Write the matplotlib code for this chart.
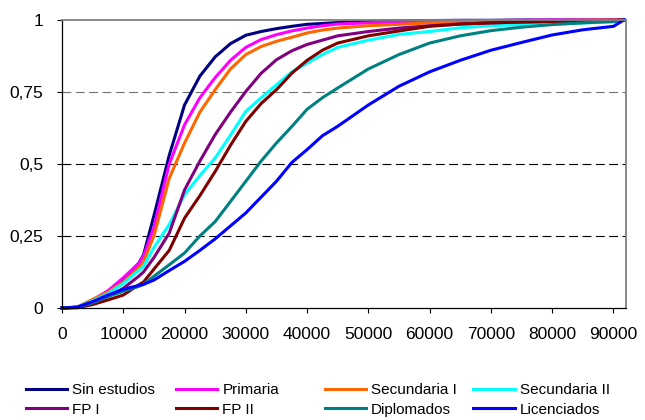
import matplotlib
matplotlib.use("Agg")
import matplotlib.pyplot as plt

plt.rcParams['font.family'] = ['Liberation Sans', 'DejaVu Sans']

# ---------------- data ----------------
income = [0, 2500, 5000, 7500, 10000, 12500, 13300, 15000, 17500, 20000, 22500,
          25000, 27500, 30000, 32500, 35000, 37500, 40000, 42500, 45000, 50000,
          55000, 60000, 65000, 70000, 75000, 80000, 85000, 90000, 91700]

sin_estudios = [0, 0.003, 0.02, 0.05, 0.095, 0.155, 0.184, 0.32, 0.53, 0.705, 0.805,
                0.872, 0.918, 0.947, 0.96, 0.97, 0.978, 0.985, 0.988, 0.991, 0.995,
                0.997, 0.998, 0.999, 0.999, 1.0, 1.0, 1.0, 1.0, 1.0]
primaria = [0, 0.003, 0.028, 0.06, 0.105, 0.155, 0.18, 0.28, 0.50, 0.636, 0.73,
            0.80, 0.86, 0.905, 0.932, 0.949, 0.962, 0.972, 0.98, 0.986, 0.99,
            0.994, 0.996, 0.997, 0.998, 0.999, 1.0, 1.0, 1.0, 1.0]
secundaria_1 = [0, 0.003, 0.03, 0.055, 0.09, 0.14, 0.16, 0.25, 0.45, 0.573, 0.68,
                0.758, 0.83, 0.88, 0.908, 0.926, 0.94, 0.955, 0.965, 0.972, 0.98,
                0.985, 0.99, 0.993, 0.995, 0.997, 0.998, 0.999, 1.0, 1.0]
secundaria_2 = [0, 0.003, 0.025, 0.05, 0.085, 0.13, 0.145, 0.21, 0.29, 0.393, 0.46,
                0.521, 0.60, 0.683, 0.73, 0.775, 0.82, 0.85, 0.88, 0.905, 0.93,
                0.95, 0.96, 0.973, 0.98, 0.984, 0.987, 0.99, 0.993, 1.0]
fp_1 = [0, 0.002, 0.018, 0.04, 0.068, 0.11, 0.125, 0.175, 0.26, 0.41, 0.51,
        0.602, 0.68, 0.752, 0.815, 0.862, 0.893, 0.915, 0.93, 0.945, 0.96,
        0.972, 0.98, 0.986, 0.99, 0.993, 0.995, 0.997, 0.999, 1.0]
fp_2 = [0, 0.001, 0.012, 0.028, 0.045, 0.08, 0.09, 0.135, 0.2, 0.312, 0.39,
        0.474, 0.565, 0.648, 0.71, 0.758, 0.815, 0.86, 0.895, 0.92, 0.945,
        0.962, 0.978, 0.986, 0.99, 0.993, 0.995, 0.997, 0.998, 1.0]
diplomados = [0, 0.002, 0.018, 0.04, 0.058, 0.075, 0.082, 0.11, 0.15, 0.191, 0.25,
              0.30, 0.37, 0.44, 0.51, 0.573, 0.63, 0.69, 0.73, 0.764, 0.83,
              0.88, 0.92, 0.945, 0.963, 0.975, 0.984, 0.99, 0.995, 1.0]
licenciados = [0, 0.003, 0.022, 0.045, 0.065, 0.078, 0.082, 0.097, 0.13, 0.162, 0.2,
               0.24, 0.285, 0.33, 0.385, 0.44, 0.505, 0.55, 0.598, 0.631, 0.705,
               0.77, 0.82, 0.86, 0.895, 0.922, 0.948, 0.966, 0.978, 1.0]

series_names = ["Sin estudios", "Primaria", "Secundaria I", "Secundaria II",
                "FP I", "FP II", "Diplomados", "Licenciados"]
series_values = [sin_estudios, primaria, secundaria_1, secundaria_2,
                 fp_1, fp_2, diplomados, licenciados]
series_colors = ["#000080", "#FF00FF", "#FF6600", "#00FFFF",
                 "#800080", "#800000", "#008080", "#0000FF"]

x_ticks = [0, 10000, 20000, 30000, 40000, 50000, 60000, 70000, 80000, 90000]
x_tick_labels = ["0", "10000", "20000", "30000", "40000", "50000", "60000",
                 "70000", "80000", "90000"]
y_ticks = [0, 0.25, 0.5, 0.75, 1]
y_tick_labels = ["0", "0,25", "0,5", "0,75", "1"]

# ---------------- figure ----------------
W, H = 645, 420
fig = plt.figure(figsize=(W / 100, H / 100), dpi=100)
ax = fig.add_axes([62 / W, 1 - 308 / H, (625.7 - 62) / W, 288 / H])

for yv in [0.25, 0.5, 0.75]:
    ax.axhline(yv, color="#707070" if yv == 0.75 else "black", lw=0.8,
               linestyle=(0, (8, 4)), zorder=0.5)

lines = []
for name, vals, col in zip(series_names, series_values, series_colors):
    ln, = ax.plot(income, vals, color=col, lw=2.2, label=name, clip_on=False,
                  solid_joinstyle="round")
    lines.append(ln)

ax.set_xlim(0, 92000)
ax.set_ylim(0, 1)
ax.set_xticks(x_ticks)
ax.set_xticklabels(x_tick_labels)
ax.set_yticks(y_ticks)
ax.set_yticklabels(y_tick_labels)
ax.tick_params(axis="both", direction="out", length=3.5, width=0.8,
               labelsize=12.5, colors="black")
ax.tick_params(axis="x", top=False, pad=10.5)
ax.tick_params(axis="y", right=False, pad=10)

for s in ["left", "bottom"]:
    ax.spines[s].set_color("black")
    ax.spines[s].set_linewidth(0.9)
for s in ["top", "right"]:
    ax.spines[s].set_color("#808080")
    ax.spines[s].set_linewidth(1.3)

# legend: four columns, two rows (row-wise order)
col_x = [25.6, 175.7, 324.6, 473.4]
for i, cx in enumerate(col_x):
    hs = [lines[i], lines[i + 4]]
    fig.legend(handles=hs, labels=[series_names[i], series_names[i + 4]],
               loc="upper left", bbox_to_anchor=(cx / W, 1 - 383 / H),
               frameon=False, borderpad=0, borderaxespad=0,
               handlelength=2.7, handletextpad=0.35, labelspacing=0.38,
               fontsize=11)

fig.savefig("out.png", dpi=100)
